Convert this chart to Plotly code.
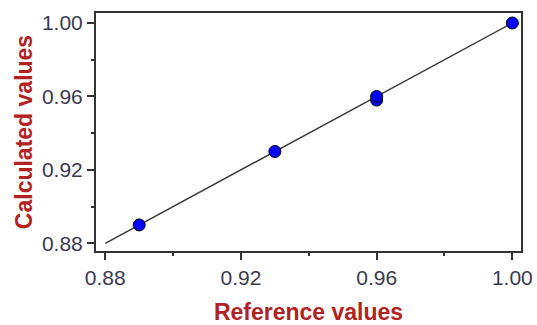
import plotly.graph_objects as go

reference = [0.89, 0.93, 0.96, 0.96, 1.00]
calculated = [0.89, 0.93, 0.958, 0.960, 1.00]
fit_x = [0.88, 1.00]
fit_y = [0.88, 1.00]
tick_vals = [0.88, 0.92, 0.96, 1.00]
tick_text = ["0.88", "0.92", "0.96", "1.00"]

fig = go.Figure()
fig.add_trace(go.Scatter(x=fit_x, y=fit_y, mode="lines",
                         line=dict(color="#3a3a3a", width=1.5), showlegend=False))
fig.add_trace(go.Scatter(x=reference, y=calculated, mode="markers",
                         marker=dict(color="#0000ff", size=12, line=dict(color="#000000", width=1)),
                         showlegend=False))

tickfont = dict(family="Liberation Sans, Arial", size=21, color="#3a3a55")
titlefont = dict(family="Liberation Sans, Arial", size=23, color="#b22222")

axis_common = dict(showline=True, linecolor="#333333", linewidth=2, mirror=True,
                   ticks="outside", ticklen=7, tickcolor="#333333", tickwidth=1.5,
                   showgrid=False, zeroline=False, tickfont=tickfont, automargin=False,
                   tickvals=tick_vals, ticktext=tick_text,
                   minor=dict(dtick=0.02, tick0=0.88, ticks="outside", ticklen=3,
                              tickcolor="#333333", showgrid=False))

fig.update_layout(
    template="none",
    width=537, height=325,
    margin=dict(l=96, r=16, t=13, b=74),
    plot_bgcolor="white", paper_bgcolor="white",
    xaxis=dict(range=[0.87726, 1.00256],
               title=dict(text="<b>Reference values</b>", font=titlefont, standoff=22),
               **axis_common),
    yaxis=dict(range=[0.8758, 1.00545],
               title=dict(text="<b>Calculated values</b>", font=titlefont, standoff=3),
               **axis_common),
)
fig.write_html("out.html", config={"displayModeBar": False},
               post_script="document.body.style.margin='0';")
